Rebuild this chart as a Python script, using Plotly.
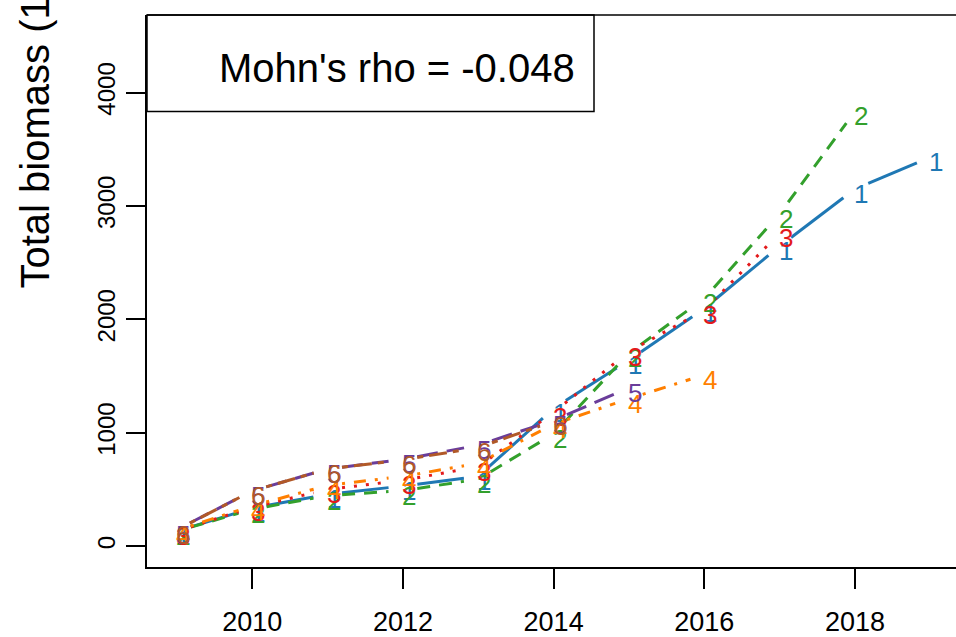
import numpy as np
import plotly.graph_objects as go

# ---------------- data ----------------
years = list(range(2009, 2020))
peel_labels = ["1", "2", "3", "4", "5", "6"]
peel1 = [132, 335, 456, 530, 615, 1215, 1640, 2096, 2645, 3149, 3430]
peel2 = [132, 325, 445, 490, 590, 990, 1702, 2184, 2930, 3833]
peel3 = [132, 342, 500, 580, 700, 1180, 1715, 2080, 2760]
peel4 = [140, 355, 535, 615, 730, 1075, 1300, 1510]
peel5 = [145, 487, 680, 765, 890, 1110, 1395]
peel6 = [145, 487, 680, 760, 870, 1100]
series = [peel1, peel2, peel3, peel4, peel5, peel6]
colors = ["#1F78B4", "#33A02C", "#E31A1C", "#FF7F00", "#6A3D9A", "#B15928"]
dashes = ["solid", "13px,9px", "3px,9px", "3px,9px,12px,9px", "21px,9px", "6px,6px,18px,6px"]
x_ticks = [2010, 2012, 2014, 2016, 2018]
y_ticks = [0, 1000, 2000, 3000, 4000]
rho_text = "Mohn's rho = -0.048"
y_title = "Total biomass (1000 t)"

# ---------------- layout geometry ----------------
FIG_W, FIG_H = 956, 637
ML, MR, MT, MB = 147, 0, 15, 67
PW, PH = FIG_W - ML - MR, FIG_H - MT - MB
XR = [2008.602, 2019.342]
YR = [-184.2, 4684.0]
GAP = 14.5  # px gap around each point (R type="b")


def to_px(x, y):
    return ((x - XR[0]) / (XR[1] - XR[0]) * PW, (y - YR[0]) / (YR[1] - YR[0]) * PH)


def gapped(xs, ys):
    gx, gy = [], []
    for i in range(len(xs) - 1):
        x0, y0, x1, y1 = xs[i], ys[i], xs[i + 1], ys[i + 1]
        X0, Y0 = to_px(x0, y0)
        X1, Y1 = to_px(x1, y1)
        L = np.hypot(X1 - X0, Y1 - Y0)
        if L <= 2 * GAP:
            continue
        f = GAP / L
        gx += [x0 + f * (x1 - x0), x1 - f * (x1 - x0), None]
        gy += [y0 + f * (y1 - y0), y1 - f * (y1 - y0), None]
    return gx, gy


fig = go.Figure()
annotations = []
for lab, vals, col, dsh in zip(peel_labels, series, colors, dashes):
    xs = years[: len(vals)]
    gx, gy = gapped(xs, vals)
    fig.add_trace(go.Scatter(x=gx, y=gy, mode="lines",
                             line=dict(color=col, width=3, dash=dsh),
                             hoverinfo="skip", showlegend=False))
    for xv, yv in zip(xs, vals):
        annotations.append(dict(x=xv, y=yv, xref="x", yref="y", text=lab,
                                showarrow=False, xshift=6, yshift=-5,
                                font=dict(size=26, color=col,
                                          family="Liberation Sans, Arial")))


def px_x(p):
    return (p - ML) / PW


def px_y(p):
    return (FIG_H - MB - p) / PH


annotations.append(dict(x=px_x(397), y=px_y(68), xref="paper", yref="paper",
                        text=rho_text, showarrow=False, xanchor="center",
                        yanchor="middle",
                        font=dict(size=40, color="black",
                                  family="Liberation Sans, Arial")))
annotations.append(dict(x=px_x(35), y=px_y(292), xref="paper", yref="paper",
                        text=y_title, showarrow=False, textangle=-90,
                        xanchor="center", yanchor="bottom",
                        font=dict(size=40, color="black",
                                  family="Liberation Sans, Arial")))

shapes = [
    # Mohn's rho box
    dict(type="rect", xref="paper", yref="paper",
         x0=0, x1=px_x(594), y0=px_y(112), y1=1,
         line=dict(color="black", width=1.5), fillcolor="white", layer="below"),
    # top border of plot box
    dict(type="line", xref="paper", yref="paper", x0=0, x1=1, y0=1, y1=1,
         line=dict(color="black", width=1.5)),
]

fig.update_layout(
    width=FIG_W, height=FIG_H,
    margin=dict(l=ML, r=MR, t=MT, b=MB, pad=0),
    plot_bgcolor="white", paper_bgcolor="white",
    showlegend=False,
    annotations=annotations,
    shapes=shapes,
    font=dict(family="Liberation Sans, Arial", color="black"),
    xaxis=dict(range=XR, tickvals=x_ticks, ticks="outside", ticklen=20,
               tickwidth=1.5, tickcolor="black", showgrid=False, zeroline=False,
               showline=True, linecolor="black", linewidth=1.5, mirror=False,
               tickfont=dict(size=27, color="black"), ticklabelstandoff=10),
    yaxis=dict(range=YR, tickvals=y_ticks, ticks="outside", ticklen=19,
               tickwidth=1.5, tickcolor="black", showgrid=False, zeroline=False,
               showline=True, linecolor="black", linewidth=1.5, mirror=False,
               tickangle=-90, tickfont=dict(size=24, color="black"),
               ticklabelstandoff=2),
)

fig.write_html("out.html")
